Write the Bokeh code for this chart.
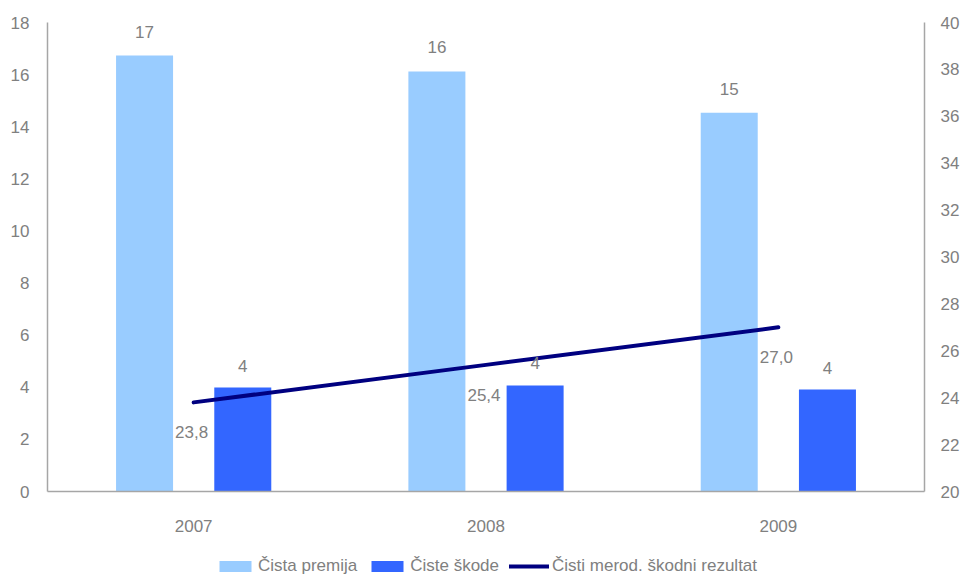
from bokeh.plotting import figure
from bokeh.layouts import column
from bokeh.models import (ColumnDataSource, FactorRange, Range1d, LinearAxis,
                          Legend, LegendItem, FixedTicker)
from bokeh.transform import dodge
from bokeh.core.properties import value
from bokeh.embed import file_html
from bokeh.resources import INLINE

years = ["2007", "2008", "2009"]
cista_premija = [16.73, 16.12, 14.54]
ciste_skode = [3.99, 4.07, 3.91]
skodni_rezultat = [23.8, 25.4, 27.0]
series_names = ["Čista premija", "Čiste škode", "Čisti merod. škodni rezultat"]

FONT = "Liberation Sans"
GREY = "#808080"
FS = "17px"
C_PREM, C_SKODE, C_LINE = "#99CCFF", "#3366FF", "#000080"

src = ColumnDataSource(dict(
    x=years,
    prem=cista_premija,
    skode=ciste_skode,
    rez=skodni_rezultat,
    prem_lbl=[f"{v:.0f}" for v in cista_premija],
    skode_lbl=[f"{v:.0f}" for v in ciste_skode],
    rez_lbl=[f"{v:.1f}".replace(".", ",") for v in skodni_rezultat],
))

p = figure(width=962, height=534, x_range=FactorRange(*years, range_padding=0),
           y_range=Range1d(0, 18), output_backend="svg", toolbar_location=None,
           min_border_left=47, min_border_right=37, min_border_top=22,
           min_border_bottom=36)
p.extra_y_ranges = {"right": Range1d(20, 40)}

p.xgrid.grid_line_color = None
p.ygrid.grid_line_color = None
p.outline_line_color = None

p.vbar(x=dodge("x", -0.168, range=p.x_range), top="prem", width=0.195,
       source=src, color=C_PREM, line_color=None)
p.vbar(x=dodge("x", 0.168, range=p.x_range), top="skode", width=0.195,
       source=src, color=C_SKODE, line_color=None)
p.line(x="x", y="rez", source=src, y_range_name="right",
       line_color=C_LINE, line_width=4, line_cap="round")

p.text(x=dodge("x", -0.168, range=p.x_range), y="prem", text="prem_lbl",
       source=src, text_align="center", text_baseline="bottom", y_offset=-18,
       text_font=value(FONT), text_font_size=FS, text_color=GREY)
p.text(x=dodge("x", 0.168, range=p.x_range), y="skode", text="skode_lbl",
       source=src, text_align="center", text_baseline="bottom", y_offset=-16,
       text_font=value(FONT), text_font_size=FS, text_color=GREY)
p.text(x="x", y="rez", text="rez_lbl", source=src, y_range_name="right",
       text_align="center", text_baseline="middle", x_offset=-2, y_offset=30,
       text_font=value(FONT), text_font_size=FS, text_color=GREY)

def style(ax):
    ax.axis_line_color = "#A6A6A6"
    ax.axis_line_width = 1.5
    ax.major_tick_line_color = None
    ax.minor_tick_line_color = None
    ax.major_label_text_font = FONT
    ax.major_label_text_font_size = FS
    ax.major_label_text_color = GREY

p.yaxis.ticker = FixedTicker(ticks=list(range(0, 19, 2)))
style(p.yaxis[0])
p.yaxis.major_label_standoff = 12
style(p.xaxis[0])
p.xaxis.major_label_standoff = 22

ax_r = LinearAxis(y_range_name="right", ticker=FixedTicker(ticks=list(range(20, 41, 2))))
style(ax_r)
ax_r.major_label_standoff = 10
p.add_layout(ax_r, "right")

# legend strip (proxy glyphs lie far outside the strip's visible range)
p2 = figure(width=962, height=43, x_range=Range1d(0, 1), y_range=Range1d(0, 1),
            output_backend="svg", toolbar_location=None, min_border=0)
p2.axis.visible = False
p2.grid.visible = False
p2.outline_line_color = None
p2.background_fill_color = None
p2.border_fill_color = None
g1 = p2.vbar(x=[-100], bottom=[-100], top=[-99], width=0.1, color=C_PREM, line_color=None)
g2 = p2.vbar(x=[-100], bottom=[-100], top=[-99], width=0.1, color=C_SKODE, line_color=None)
g3 = p2.line(x=[-100, -99], y=[-100, -100], line_color=C_LINE, line_width=4, line_cap="round")

legend = Legend(items=[
    LegendItem(label=series_names[0], renderers=[g1]),
    LegendItem(label=series_names[1], renderers=[g2]),
    LegendItem(label=series_names[2], renderers=[g3]),
], orientation="horizontal", location=(168, 1),
    label_text_font=FONT, label_text_font_size=FS, label_text_color=GREY,
    glyph_width=40, glyph_height=14, spacing=10, label_standoff=3,
    border_line_color=None, background_fill_alpha=0, padding=0, margin=0)
p2.add_layout(legend, "center")

open("out.html", "w").write(file_html(column(p, p2, spacing=0), INLINE))
